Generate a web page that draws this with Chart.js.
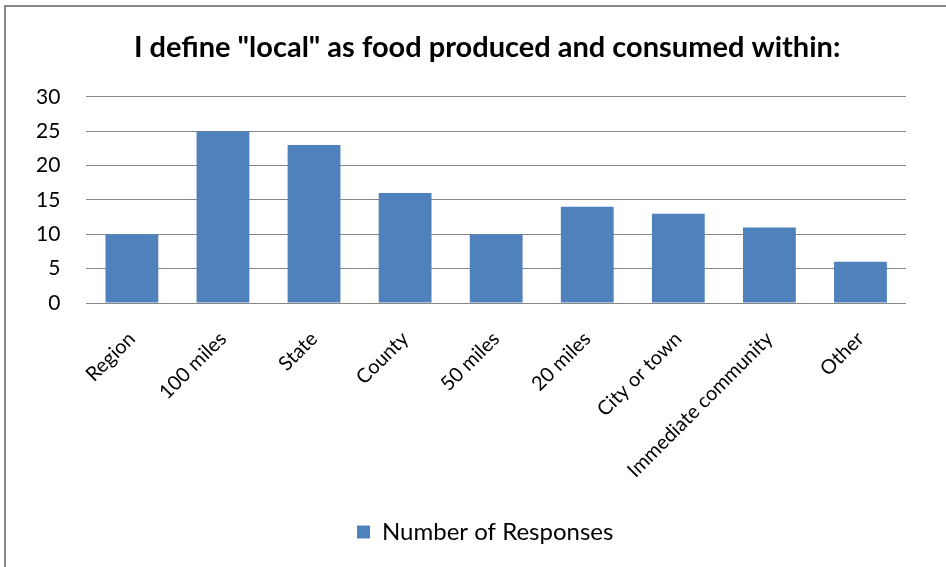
<!DOCTYPE html>
<html>
<head>
<meta charset="utf-8">
<script src="https://cdn.jsdelivr.net/npm/chart.js@4"></script>
<style>
  html, body { margin: 0; padding: 0; background: #fff; }
  #wrap { position: relative; width: 946px; height: 567px; overflow: hidden; }
  #frameTop { position: absolute; left: 4px; top: 5px; width: 942px; height: 2px; background: #878787; }
  #frameLeft { position: absolute; left: 4px; top: 5px; width: 2px; height: 562px; background: #878787; }
  canvas { position: absolute; left: 0; top: 0; }
</style>
</head>
<body>
<div id="wrap">
  <canvas id="c" width="946" height="567"></canvas>
  <div id="frameTop"></div>
  <div id="frameLeft"></div>
</div>
<script>
const categories = ["Region", "100 miles", "State", "County", "50 miles", "20 miles", "City or town", "Immediate community", "Other"];
const responses = [10, 25, 23, 16, 10, 14, 13, 11, 6];
const seriesName = "Number of Responses";
const titleText = 'I define "local" as food produced and consumed within:';
const yTicks = { min: 0, max: 30, step: 5 };

const FONT = "Lato, 'Open Sans', sans-serif";

// nudge title and legend horizontally to match the reference centring
const nudgeBoxes = {
  id: 'nudgeBoxes',
  afterLayout(chart) {
    if (chart.titleBlock) { chart.titleBlock.left -= 9; chart.titleBlock.right -= 9; }
    if (chart.legend) { chart.legend.left -= 11; chart.legend.right -= 11; }
  }
};

new Chart(document.getElementById('c'), {
  type: 'bar',
  data: {
    labels: categories,
    datasets: [{
      label: seriesName,
      data: responses,
      backgroundColor: '#4F81BD',
      borderWidth: 0,
      barPercentage: 0.58,
      categoryPercentage: 1.0
    }]
  },
  plugins: [nudgeBoxes],
  options: {
    responsive: false,
    animation: false,
    devicePixelRatio: 1,
    layout: { padding: { left: 10, right: 40, top: 0, bottom: 13 } },
    plugins: {
      title: {
        display: true,
        fullSize: false,
        text: titleText,
        color: '#000',
        font: { family: FONT, size: 29, weight: 'bold' },
        padding: { top: 30, bottom: 32 }
      },
      legend: {
        display: true,
        fullSize: false,
        position: 'bottom',
        labels: {
          color: '#000',
          font: { family: FONT, size: 24 },
          boxWidth: 13,
          boxHeight: 13,
          padding: 10
        }
      },
      tooltip: { enabled: false }
    },
    scales: {
      x: {
        grid: { display: false, drawTicks: false },
        border: { display: false },
        ticks: {
          color: '#000',
          font: { family: FONT, size: 20 },
          minRotation: 45,
          maxRotation: 45,
          padding: 24,
          autoSkip: false
        },
        afterFit: (scale) => { scale.height = 207; }
      },
      y: {
        min: yTicks.min,
        max: yTicks.max,
        grid: { color: '#868686', lineWidth: 1, drawTicks: false },
        border: { display: false },
        ticks: {
          stepSize: yTicks.step,
          color: '#000',
          font: { family: FONT, size: 21 },
          padding: 26
        }
      }
    }
  }
});
</script>
</body>
</html>
